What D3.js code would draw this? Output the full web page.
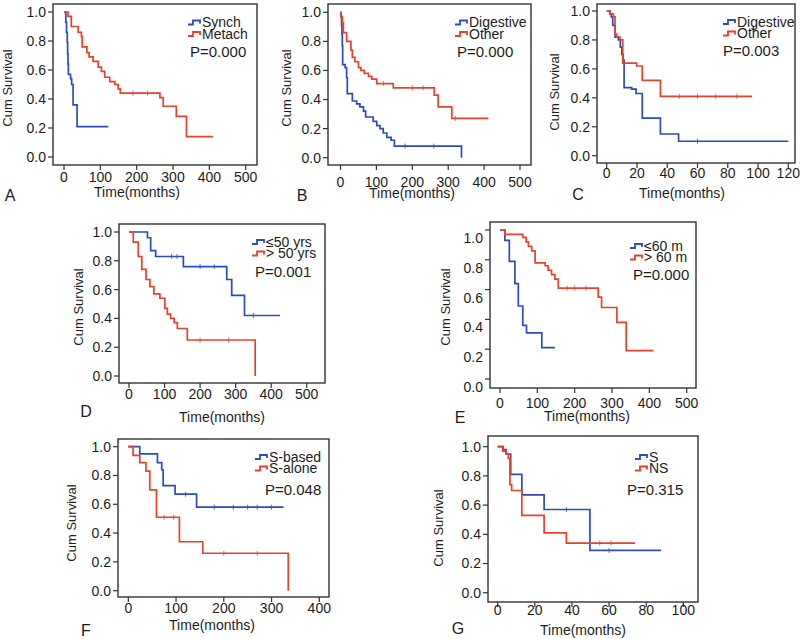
<!DOCTYPE html>
<html>
<head>
<meta charset="utf-8">
<script src="https://cdn.jsdelivr.net/npm/d3@7"></script>
<style>
  body { margin: 0; background: #fff; }
  text { font-family: "Liberation Sans", Arial, sans-serif; fill: #1c1c1c; }
</style>
</head>
<body>
<div id="chart"></div>
<script>
// ---- data ----
// A: synchronous vs metachronous
var aSynchTime = [0, 5, 7, 9, 10, 11, 12, 18, 21, 25, 36];
var aSynchSurv = [1, 0.93, 0.86, 0.79, 0.71, 0.64, 0.57, 0.54, 0.50, 0.36, 0.21];
var aSynchEnd = 122, aSynchCens = [];
var aMetachTime = [0, 11, 20, 39, 48, 50, 63, 69, 80, 94, 103, 112, 126, 140, 149, 155, 264, 273, 309, 337];
var aMetachSurv = [1, 0.97, 0.90, 0.86, 0.83, 0.76, 0.72, 0.69, 0.66, 0.62, 0.59, 0.55, 0.52, 0.50, 0.47, 0.44, 0.41, 0.35, 0.28, 0.14];
var aMetachEnd = 410, aMetachCens = [190, 230];

// B: digestive vs other
var bDigTime = [0, 1.5, 3, 4, 5, 6, 13, 17, 19, 33, 45, 54, 64, 70, 91, 101, 110, 119, 129, 141, 150, 337];
var bDigSurv = [1, 0.97, 0.91, 0.85, 0.77, 0.64, 0.62, 0.55, 0.44, 0.39, 0.37, 0.35, 0.32, 0.28, 0.25, 0.22, 0.20, 0.17, 0.14, 0.12, 0.08, 0.0];
var bDigEnd = 337, bDigCens = [180, 260];
var bOthTime = [0, 1.4, 5, 8, 17, 29, 33, 40, 50, 57, 66, 78, 87, 101, 147, 261, 272, 310];
var bOthSurv = [1, 0.97, 0.93, 0.86, 0.80, 0.74, 0.69, 0.66, 0.62, 0.60, 0.58, 0.56, 0.54, 0.51, 0.48, 0.43, 0.35, 0.27];
var bOthEnd = 412, bOthCens = [120, 200, 230, 320];

// C: digestive vs other (short follow-up)
var cDigTime = [0, 2, 3, 4, 5.5, 7.7, 9, 10, 10.8, 11.5, 16.5, 19.4, 23.5, 35.5, 47.5];
var cDigSurv = [1, 0.98, 0.96, 0.90, 0.82, 0.80, 0.75, 0.70, 0.66, 0.47, 0.46, 0.43, 0.26, 0.15, 0.10];
var cDigEnd = 120, cDigCens = [60];
var cOthTime = [0, 2.2, 4.4, 5.5, 6.6, 8.8, 10.6, 19.8, 23.5, 35.5];
var cOthSurv = [1, 0.98, 0.96, 0.84, 0.82, 0.80, 0.64, 0.62, 0.52, 0.41];
var cOthEnd = 96, cOthCens = [48, 60, 72, 86];

// D: age
var dYoungTime = [0, 52, 61, 75, 153, 275, 289, 325];
var dYoungSurv = [1, 0.96, 0.87, 0.83, 0.76, 0.67, 0.56, 0.42];
var dYoungEnd = 425, dYoungCens = [120, 135, 200, 240, 350];
var dOldTime = [0, 12, 26, 36, 48, 59, 70, 87, 101, 108, 117, 127, 136, 164, 355];
var dOldSurv = [1, 0.93, 0.83, 0.74, 0.67, 0.62, 0.57, 0.54, 0.47, 0.43, 0.40, 0.37, 0.33, 0.25, 0.0];
var dOldEnd = 355, dOldCens = [200, 280];

// E: interval
var eShortTime = [0, 13, 25, 40, 49, 61, 71, 112];
var eShortSurv = [1, 0.93, 0.79, 0.64, 0.49, 0.36, 0.31, 0.21];
var eShortEnd = 147, eShortCens = [];
var eLongTime = [0, 13, 61, 70, 76, 85, 94, 121, 129, 138, 147, 156, 263, 272, 313, 338];
var eLongSurv = [1, 0.97, 0.95, 0.92, 0.89, 0.86, 0.78, 0.76, 0.73, 0.70, 0.67, 0.61, 0.55, 0.48, 0.38, 0.19];
var eLongEnd = 411, eLongCens = [180, 200, 230];

// F: treatment
var fBasedTime = [0, 24, 61, 70, 73, 98, 143];
var fBasedSurv = [1, 0.95, 0.89, 0.84, 0.73, 0.67, 0.58];
var fBasedEnd = 325, fBasedCens = [120, 180, 220, 250, 270, 300];
var fAloneTime = [0, 10, 24, 37, 45, 59, 107, 156, 335];
var fAloneSurv = [1, 0.94, 0.89, 0.83, 0.70, 0.51, 0.34, 0.26, 0.0];
var fAloneEnd = 335, fAloneCens = [75, 95, 200, 270];

// G: S vs NS
var gSTime = [0, 3, 4.5, 7, 13, 25, 49.7];
var gSSurv = [1, 0.98, 0.95, 0.81, 0.67, 0.57, 0.29];
var gSEnd = 88, gSCens = [37, 60];
var gNSTime = [0, 2.7, 4.5, 5.7, 6.6, 7.5, 13, 25, 37];
var gNSSurv = [1, 0.97, 0.95, 0.92, 0.74, 0.70, 0.53, 0.41, 0.34];
var gNSEnd = 74, gNSCens = [55, 61];

// tick labels
var yTicks = [0, 0.2, 0.4, 0.6, 0.8, 1.0];
var ticks500 = [0, 100, 200, 300, 400, 500];
var ticks400 = [0, 100, 200, 300, 400];
var ticks120 = [0, 20, 40, 60, 80, 100, 120];
var ticks100 = [0, 20, 40, 60, 80, 100];

var blue = "#2b4cbf";
var red = "#e8412c";

function ser(t, s, end, cens, color, name) {
    return { t: t, s: s, end: end, cens: cens, color: color, name: name };
}

// layout: frame box, scale anchors, text spots (pixels)
var panels = [
    { letter: "A", frame: [53, 4, 257, 165], xd: [0, 500], xr: [64, 245.7], yr: [157, 12], xTicks: ticks500,
      tickY: 177, title: [137, 192], let: [10, 195], cum: [7, 88], leg: [188, 22.5], p: [190, 52], pText: "P=0.000",
      series: [ser(aSynchTime, aSynchSurv, aSynchEnd, aSynchCens, blue, "Synch"),
               ser(aMetachTime, aMetachSurv, aMetachEnd, aMetachCens, red, "Metach")] },
    { letter: "B", frame: [328, 4, 531, 165], xd: [0, 500], xr: [340.5, 520], yr: [157.7, 12.3], xTicks: ticks500,
      tickY: 182, title: [412, 193], let: [302, 195], cum: [286, 88], leg: [455, 22.5], p: [457, 52], pText: "P=0.000",
      series: [ser(bDigTime, bDigSurv, bDigEnd, bDigCens, blue, "Digestive"),
               ser(bOthTime, bOthSurv, bOthEnd, bOthCens, red, "Other")] },
    { letter: "C", frame: [597, 4, 795, 163], xd: [0, 120], xr: [606.7, 788.3], yr: [155.7, 11], xTicks: ticks120,
      tickY: 173, title: [682, 193], let: [578, 194], cum: [554, 92], leg: [723, 22], p: [723, 51], pText: "P=0.003",
      series: [ser(cDigTime, cDigSurv, cDigEnd, cDigCens, blue, "Digestive"),
               ser(cOthTime, cOthSurv, cOthEnd, cOthCens, red, "Other")] },
    { letter: "D", frame: [119, 224, 325, 383], xd: [0, 500], xr: [129, 306.7], yr: [376, 232], xTicks: ticks500,
      tickY: 394, title: [222, 417], let: [86, 411], cum: [78, 307], leg: [252, 242], p: [255, 272], pText: "P=0.001",
      series: [ser(dYoungTime, dYoungSurv, dYoungEnd, dYoungCens, blue, "\u226450 yrs"),
               ser(dOldTime, dOldSurv, dOldEnd, dOldCens, red, "> 50 yrs")] },
    { letter: "E", frame: [490, 222, 696, 388], xd: [0, 500], xr: [500, 686.7], yr: [379, 230], xTicks: ticks500,
      tickY: 403, labelShift: 8, title: [587, 416], let: [460, 417], cum: [445, 307], leg: [630, 246], p: [633, 275], pText: "P=0.000",
      series: [ser(eShortTime, eShortSurv, eShortEnd, eShortCens, blue, "\u226460 m"),
               ser(eLongTime, eLongSurv, eLongEnd, eLongCens, red, "> 60 m")] },
    { letter: "F", frame: [118, 439, 329, 597], xd: [0, 400], xr: [128.3, 319.3], yr: [590.7, 446.7], xTicks: ticks400,
      tickY: 608, title: [212, 625], let: [86, 630], cum: [71, 523], leg: [255, 457], p: [265, 490], pText: "P=0.048",
      series: [ser(fBasedTime, fBasedSurv, fBasedEnd, fBasedCens, blue, "S-based"),
               ser(fAloneTime, fAloneSurv, fAloneEnd, fAloneCens, red, "S-alone")] },
    { letter: "G", frame: [488, 436, 698, 602], xd: [0, 100], xr: [497.7, 683.3], yr: [592.7, 446.7], xTicks: ticks100,
      tickY: 610, title: [583, 630], let: [458, 628], cum: [438, 528], leg: [635, 457], p: [627, 490], pText: "P=0.315",
      series: [ser(gSTime, gSSurv, gSEnd, gSCens, blue, "S"),
               ser(gNSTime, gNSSurv, gNSEnd, gNSCens, red, "NS")] }
];

var svg = d3.select("#chart").append("svg")
    .attr("width", 800)
    .attr("height", 639);

function survAt(sr, time) {
    var v = sr.s[0];
    for (var i = 0; i < sr.t.length; i++) {
        if (sr.t[i] <= time) v = sr.s[i];
    }
    return v;
}

panels.forEach(function (p) {
    var g = svg.append("g");
    var x = d3.scaleLinear().domain(p.xd).range(p.xr);
    var y = d3.scaleLinear().domain([0, 1]).range(p.yr);
    var f = p.frame;
    var shift = p.labelShift || 0;

    // curves
    var line = d3.line()
        .x(function (d) { return x(d[0]); })
        .y(function (d) { return y(d[1]); })
        .curve(d3.curveStepAfter);

    p.series.forEach(function (sr) {
        var pts = sr.t.map(function (d, i) { return [d, sr.s[i]]; });
        pts.push([sr.end, sr.s[sr.s.length - 1]]);
        g.append("path")
            .attr("d", line(pts))
            .attr("fill", "none")
            .attr("stroke", sr.color)
            .attr("stroke-width", 1.7);
        g.selectAll(null).data(sr.cens).enter().append("line")
            .attr("x1", function (d) { return x(d); })
            .attr("x2", function (d) { return x(d); })
            .attr("y1", function (d) { return y(survAt(sr, d)) - 2.5; })
            .attr("y2", function (d) { return y(survAt(sr, d)) + 2.5; })
            .attr("stroke", sr.color)
            .attr("stroke-width", 0.8);
    });

    // frame
    g.append("rect")
        .attr("x", f[0]).attr("y", f[1])
        .attr("width", f[2] - f[0]).attr("height", f[3] - f[1])
        .attr("fill", "none")
        .attr("stroke", "#333")
        .attr("stroke-width", 1.4);

    // y ticks
    g.selectAll(null).data(yTicks).enter().append("line")
        .attr("x1", f[0] - 5).attr("x2", f[0])
        .attr("y1", function (d) { return y(d); })
        .attr("y2", function (d) { return y(d); })
        .attr("stroke", "#333").attr("stroke-width", 1.2);
    g.selectAll(null).data(yTicks).enter().append("text")
        .attr("x", f[0] - 7)
        .attr("y", function (d) { return y(d) + shift; })
        .attr("dy", "0.35em")
        .attr("text-anchor", "end")
        .style("font-size", "14px")
        .text(function (d) { return d3.format(".1f")(d); });

    // x ticks
    g.selectAll(null).data(p.xTicks).enter().append("line")
        .attr("x1", function (d) { return x(d); })
        .attr("x2", function (d) { return x(d); })
        .attr("y1", f[3]).attr("y2", f[3] + 5)
        .attr("stroke", "#333").attr("stroke-width", 1.2);
    g.selectAll(null).data(p.xTicks).enter().append("text")
        .attr("x", function (d) { return x(d); })
        .attr("y", p.tickY)
        .attr("dy", "0.35em")
        .attr("text-anchor", "middle")
        .style("font-size", "14px")
        .text(function (d) { return d; });

    // titles
    g.append("text")
        .attr("x", p.title[0]).attr("y", p.title[1])
        .attr("dy", "0.35em")
        .attr("text-anchor", "middle")
        .style("font-size", "14px")
        .text("Time(months)");
    g.append("text")
        .attr("transform", "translate(" + p.cum[0] + "," + p.cum[1] + ") rotate(-90)")
        .attr("dy", "0.35em")
        .attr("text-anchor", "middle")
        .style("font-size", "13px")
        .text("Cum Survival");
    g.append("text")
        .attr("x", p.let[0]).attr("y", p.let[1])
        .attr("dy", "0.35em")
        .attr("text-anchor", "middle")
        .style("font-size", "16px")
        .text(p.letter);

    // legend
    p.series.forEach(function (sr, i) {
        var lx = p.leg[0], ly = p.leg[1] + i * 11.5;
        g.append("path")
            .attr("d", "M" + lx + "," + (ly + 2) + "H" + (lx + 5) + "V" + (ly - 2) + "H" + (lx + 12) + "V" + (ly + 1))
            .attr("fill", "none")
            .attr("stroke", sr.color)
            .attr("stroke-width", 1.8);
        g.append("text")
            .attr("x", lx + 14).attr("y", ly)
            .attr("dy", "0.35em")
            .style("font-size", "14px")
            .text(sr.name);
    });
    g.append("text")
        .attr("x", p.p[0]).attr("y", p.p[1])
        .attr("dy", "0.35em")
        .style("font-size", "15px")
        .text(p.pText);
});
</script>
</body>
</html>
